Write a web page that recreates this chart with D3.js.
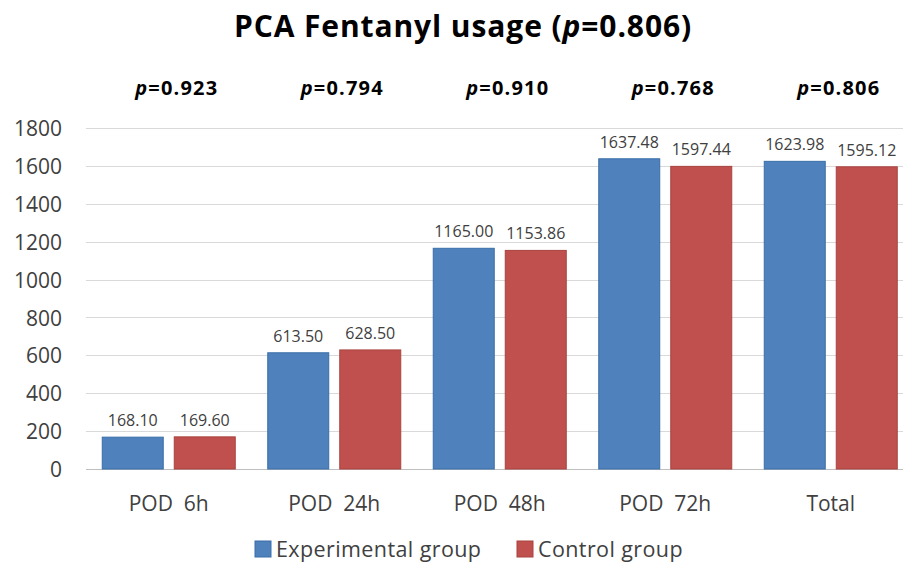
<!DOCTYPE html>
<html>
<head>
<meta charset="utf-8">
<script src="https://cdn.jsdelivr.net/npm/d3@7"></script>
<style>
  body { margin: 0; background: #fff; }
  text { font-family: "Open Sans", "Noto Sans", sans-serif; }
</style>
</head>
<body>
<script>
// chart data
var categories = ["POD  6h", "POD  24h", "POD  48h", "POD  72h", "Total"];
var series = ["Experimental group", "Control group"];
var experimental = [168.10, 613.50, 1165.00, 1637.48, 1623.98];
var control = [169.60, 628.50, 1153.86, 1597.44, 1595.12];
var pValues = ["0.923", "0.794", "0.910", "0.768", "0.806"];
var yTicks = [0, 200, 400, 600, 800, 1000, 1200, 1400, 1600, 1800];
var colors = ["#4F81BD", "#C0504D"];
var strokes = ["#3A6EA8", "#A84340"];

var w = 903, h = 564;
var plotLeft = 86, plotRight = 913.5, plotTop = 128, plotBottom = 469;

var svg = d3.select("body").append("svg")
  .attr("width", w)
  .attr("height", h);

var x0 = d3.scaleBand().domain(categories).range([plotLeft, plotRight]);
var bw = x0.bandwidth();
var x1 = d3.scaleBand().domain(series).range([16.25, bw - 16.25]).paddingInner(0.153);
var y = d3.scaleLinear().domain([0, 1800]).range([plotBottom, plotTop]);

// gridlines
svg.append("g")
  .selectAll("line")
  .data(yTicks)
  .enter()
  .append("line")
  .attr("x1", plotLeft).attr("x2", w)
  .attr("y1", function(d) { return Math.round(y(d)) + 0.5; })
  .attr("y2", function(d) { return Math.round(y(d)) + 0.5; })
  .attr("stroke", function(d) { return d === 0 ? "#BFBFBF" : "#D9D9D9"; })
  .attr("stroke-width", 1.2);

// y axis labels
var yAxis = d3.axisLeft(y).tickValues(yTicks).tickFormat(d3.format("d")).tickSize(0).tickPadding(0);
var gy = svg.append("g").attr("transform", "translate(62,0)").call(yAxis);
gy.select(".domain").remove();
gy.selectAll("text")
  .attr("font-size", 21)
  .attr("fill", "#404040")
  .attr("dy", "0.36em");

// bars
var rows = categories.map(function(c, i) {
  return { cat: c, vals: [experimental[i], control[i]] };
});

var groups = svg.selectAll(".grp")
  .data(rows)
  .enter()
  .append("g")
  .attr("transform", function(d) { return "translate(" + x0(d.cat) + ",0)"; });

groups.selectAll("rect")
  .data(function(d) { return d.vals.map(function(v, j) { return { s: series[j], v: v, j: j }; }); })
  .enter()
  .append("rect")
  .attr("x", function(d) { return x1(d.s); })
  .attr("width", x1.bandwidth())
  .attr("y", function(d) { return y(d.v); })
  .attr("height", function(d) { return plotBottom - y(d.v); })
  .attr("fill", function(d) { return colors[d.j]; })
  .attr("stroke", function(d) { return strokes[d.j]; })
  .attr("stroke-width", 1);

groups.selectAll(".val")
  .data(function(d) { return d.vals.map(function(v, j) { return { s: series[j], v: v }; }); })
  .enter()
  .append("text")
  .attr("x", function(d) { return x1(d.s) + x1.bandwidth() / 2; })
  .attr("y", function(d) { return y(d.v) - 11; })
  .attr("text-anchor", "middle")
  .attr("font-size", 16)
  .attr("fill", "#404040")
  .text(function(d) { return d.v.toFixed(2); });

// category labels
svg.selectAll(".cat")
  .data(categories)
  .enter()
  .append("text")
  .attr("x", function(d) { return x0(d) + bw / 2; })
  .attr("y", 511)
  .attr("text-anchor", "middle")
  .attr("font-size", 21)
  .attr("fill", "#404040")
  .attr("xml:space", "preserve")
  .style("white-space", "pre")
  .text(function(d) { return d; });

// p-values above groups
var pt = svg.selectAll(".pv")
  .data(categories)
  .enter()
  .append("text")
  .attr("x", function(d) { return x0(d) + bw / 2 + 8; })
  .attr("y", 95)
  .attr("text-anchor", "middle")
  .attr("font-size", 20)
  .attr("font-weight", "bold")
  .attr("letter-spacing", 1.2)
  .attr("fill", "#000");
pt.append("tspan").attr("font-style", "italic").text("p");
pt.append("tspan").text(function(d, i) { return "=" + pValues[i]; });

// title
var t = svg.append("text")
  .attr("x", 463)
  .attr("y", 37)
  .attr("text-anchor", "middle")
  .attr("font-size", 30)
  .attr("font-weight", "bold")
  .attr("letter-spacing", 0.9)
  .attr("fill", "#000");
t.append("tspan").text("PCA Fentanyl usage (");
t.append("tspan").attr("font-style", "italic").text("p");
t.append("tspan").text("=0.806)");

// legend
var legend = svg.append("g");
var lx = [255, 517];
series.forEach(function(s, i) {
  legend.append("rect")
    .attr("x", lx[i]).attr("y", 541)
    .attr("width", 16).attr("height", 16)
    .attr("fill", colors[i])
    .attr("stroke", strokes[i]);
  legend.append("text")
    .attr("x", lx[i] + 21).attr("y", 557)
    .attr("font-size", 21.5)
    .attr("letter-spacing", 0.4)
    .attr("fill", "#404040")
    .text(s);
});
</script>
</body>
</html>
